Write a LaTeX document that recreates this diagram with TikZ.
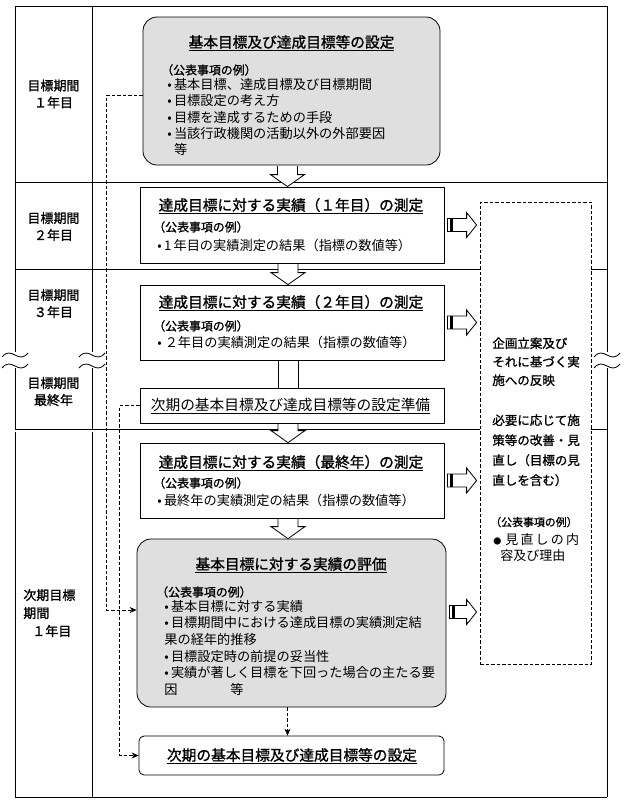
\documentclass[tikz,border=0pt]{standalone}
\usepackage{fontspec}
\setmainfont{Noto Sans CJK JP}
\newfontfamily\gothb{Noto Sans CJK JP}[FakeBold=1.2]
\usetikzlibrary{arrows.meta,calc}

% block arrow pointing down, from the bottom of one box to the top of the next
\newcommand{\dnarrow}[2]{%
  \draw[line width=0.8pt, fill=white] let \p1=([xshift=-4pt]#1.south), \p2=(#2.north) in
    (\x1-10pt,\y1-0.6pt) -- (\x1-10pt,\y2+12pt) -- (\x1-17pt,\y2+12pt) -- (\x1,\y2)
    -- (\x1+17pt,\y2+12pt) -- (\x1+10pt,\y2+12pt) -- (\x1+10pt,\y1-0.6pt);}
% block arrow pointing right, into the dashed box
\newcommand{\rtarrow}[3][0pt]{%
  \draw[line width=0.8pt, fill=white] let \p1=([yshift=#1]#2.east), \p2=(#3.west) in
    (\x1+3pt,\y1+6.5pt) -- (\x2-13pt,\y1+6.5pt) -- (\x2-13pt,\y1+12.5pt) -- (\x2-3pt,\y1)
    -- (\x2-13pt,\y1-12.5pt) -- (\x2-13pt,\y1-6.5pt) -- (\x1+3pt,\y1-6.5pt) -- cycle;
  \draw[line width=3pt] let \p1=([yshift=#1]#2.east) in
    (\x1+7pt,\y1+6.5pt) -- (\x1+7pt,\y1-6.5pt);}
% break mark on a vertical line
\newcommand{\brk}[2]{%
  \draw[line width=0.8pt] (#1-13,#2+2) .. controls (#1-8,#2-4) and (#1-4,#2-2) .. (#1,#2)
    .. controls (#1+4,#2+2) and (#1+8,#2+4) .. (#1+13,#2-2);}

\tikzset{
  box/.style={draw, line width=0.8pt, fill=white, minimum width=304pt, minimum height=75pt},
  evalbox/.style={draw, line width=0.8pt, fill=gray!25, rounded corners=14pt},
  ttl/.style={anchor=base, inner sep=0pt, font=\gothb\fontsize{14.7}{17}\selectfont},
  hdr/.style={anchor=base west, inner sep=0pt, font=\gothb\fontsize{11.9}{14}\selectfont},
  itm/.style={anchor=north west, inner sep=0pt, align=left, font=\fontsize{13.2}{16.4}\selectfont},
  lbl/.style={inner sep=0pt, align=center, font=\gothb\fontsize{13}{17}\selectfont},
  dashline/.style={dash pattern=on 3.5pt off 2pt, line width=0.8pt},
}

\begin{document}
\begin{tikzpicture}[x=1pt, y=-1pt, line width=0.7pt]
	\useasboundingbox (0,0) rectangle (630,801);

	% frame
	\draw (15,6) -- (607,6);
	\draw (15,797) -- (607,797);
	\foreach \xx in {15,92,607} {
		\draw (\xx,6) -- (\xx,352);
		\draw (\xx,368) -- (\xx,797);
		\brk{\xx}{355}
		\brk{\xx}{366}
	}
	\draw (15,182) -- (607,182);
	\draw (15,269) -- (607,269);
	\draw[double, double distance=2pt] (15,430.5) -- (607,430.5);

	% period labels
	\node[lbl] (p1) at (53.5,94)    {目標期間\\１年目};
	\node[lbl] (p2) at (53.5,226.5) {目標期間\\２年目};
	\node[lbl] (p3) at (53.5,303.5) {目標期間\\３年目};
	\node[lbl] (p4) at (53.5,391.5) {目標期間\\最終年};
	\node[lbl, align=left, anchor=west, font=\gothb\fontsize{13}{18}\selectfont] (p5) at (23,613)
		{次期目標\\期間\\\hspace*{9pt}１年目};

	% right dashed box
	\node[draw, dashline, fill=white, minimum width=111pt, minimum height=462pt] (rb) at (535.5,433) {};
	\node[itm, font=\gothb\fontsize{12.5}{18.5}\selectfont] (rt1) at (492,337.1)
		{企画立案及び\\それに基づく実\\施への反映};
	\node[itm, font=\gothb\fontsize{12.5}{20}\selectfont] (rt2) at (492,414.1)
		{必要に応じて施\\策等の改善・見\\直し（目標の見\\直しを含む）};
	\node[hdr, font=\gothb\fontsize{10.9}{13}\selectfont] (rth) at (490,526.2) {（公表事項の例）};
	\node[itm, font=\fontsize{13}{16}\selectfont] (rtl) at (493,532.9)
		{{\fontsize{8}{8}\selectfont ●}\hspace{4pt}見\,直\,し\,の\,内\\\hspace*{7pt}容及び理由};

	% boxes
	\node[evalbox, minimum width=297pt, minimum height=148pt] (b1) at (291.5,91) {};
	\node[box, minimum height=76pt] (b2) at (292,225) {};
	\node[box] (b3) at (292,322.5) {};
	\node[box, minimum height=35pt] (b4) at (292,405.5) {};
	\node[box] (b5) at (292,480.5) {};
	\node[evalbox, minimum width=309pt, minimum height=168pt] (b6) at (291.5,623) {};
	\node[box, rounded corners=5pt, minimum width=305pt, minimum height=39pt] (b7) at (291.5,755.5) {};

	% texts in the boxes
	\node[ttl] (b1t) at (291.5,47.6) {\underline{基本目標及び達成目標等の設定}};
	\node[hdr] (b1h) at (161,74.5) {（公表事項の例）};
	\node[itm] (b1l) at (167,77.8)
		{•\,基本目標、達成目標及び目標期間\\•\,目標設定の考え方\\•\,目標を達成するための手段\\
		 •\,当該行政機関の活動以外の外部要因\\\phantom{•\,}等};

	\node[ttl] (b2t) at (291,210.6) {\underline{達成目標に対する実績（１年目）の測定}};
	\node[hdr] (b2h) at (153,231.5) {（公表事項の例）};
	\node[itm, anchor=base west] (b2l) at (157,250) {•\,1\,年目の実績測定の結果（指標の数値等）};

	\node[ttl] (b3t) at (291,307.6) {\underline{達成目標に対する実績（２年目）の測定}};
	\node[hdr] (b3h) at (153,330.5) {（公表事項の例）};
	\node[itm, anchor=base west] (b3l) at (157,347) {•\ ２年目の実績測定の結果（指標の数値等）};

	\node[ttl, font=\fontsize{14.7}{17}\selectfont] (b4t) at (290.5,410.6) {\underline{次期の基本目標及び達成目標等の設定準備}};

	\node[ttl] (b5t) at (291,467.6) {\underline{達成目標に対する実績（最終年）の測定}};
	\node[hdr] (b5h) at (153,487.5) {（公表事項の例）};
	\node[itm, anchor=base west] (b5l) at (157,505) {•\,最終年の実績測定の結果（指標の数値等）};

	\node[ttl] (b6t) at (291,569.6) {\underline{基本目標に対する実績の評価}};
	\node[hdr] (b6h) at (156,596.5) {（公表事項の例）};
	\node[itm, font=\fontsize{13.2}{16.6}\selectfont] (b6l) at (164,599.8)
		{•\,基本目標に対する実績\\•\,目標期間中における達成目標の実績測定結\\果の経年的推移\\
		 •\,目標設定時の前提の妥当性\\•\,実績が著しく目標を下回った場合の主たる要\\因　　　　等};

	\node[ttl] (b7t) at (292,760.6) {\underline{次期の基本目標及び達成目標等の設定}};

	% arrows
	\dnarrow{b1}{b2}
	\dnarrow{b2}{b3}
	\draw[line width=0.8pt] ([xshift=-14pt]b3.south) -- ([xshift=-14pt]b4.north);
	\draw[line width=0.8pt] ([xshift=6pt]b3.south) -- ([xshift=6pt]b4.north);
	\dnarrow{b4}{b5}
	\dnarrow{b5}{b6}
	\rtarrow{b2}{rb}
	\rtarrow{b3}{rb}
	\rtarrow{b5}{rb}
	\rtarrow[11pt]{b6}{rb}

	% dashed links
	\draw[dashline, -{Stealth[length=7pt,width=6pt]}] ([yshift=-4pt]b1.west)
		-| ([xshift=-30pt,yshift=13pt]b6.west) -- ([yshift=13pt]b6.west);
	\draw[dashline, -{Stealth[length=7pt,width=6pt]}] (b4.west)
		-| ([xshift=-19pt]b7.west) -- (b7.west);
	\draw[dashline, -{Stealth[length=7pt,width=6pt]}] ([xshift=-4pt]b6.south) -- ([xshift=-4pt]b7.north);
\end{tikzpicture}
\end{document}
